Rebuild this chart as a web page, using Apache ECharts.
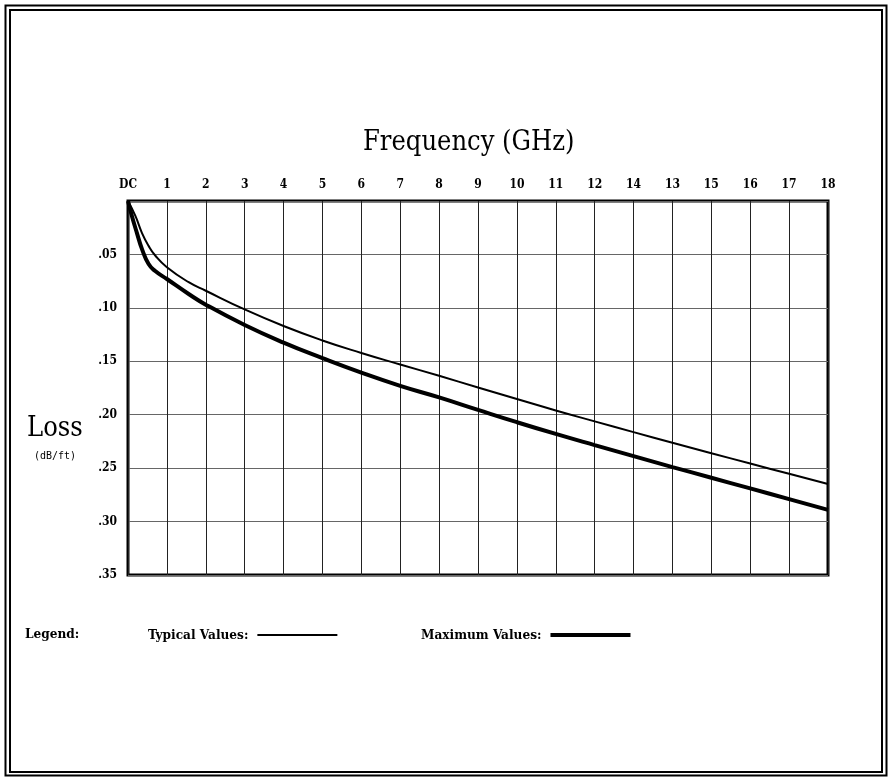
<!DOCTYPE html>
<html>
<head>
<meta charset="utf-8">
<title>Loss vs Frequency</title>
<script src="https://cdn.jsdelivr.net/npm/echarts@6/dist/echarts.min.js"></script>
<style>
  html, body { margin: 0; padding: 0; background: #fff; }
  #chart { width: 888px; height: 778px; }
</style>
</head>
<body>
<div id="chart"></div>
<script>
// tick labels along the top (the 14 / 13 order is as printed on the original)
var xTickLabels = ['DC', '1', '2', '3', '4', '5', '6', '7', '8', '9', '10', '11', '12', '14', '13', '15', '16', '17', '18'];
var yTickLabels = ['', '.05', '.10', '.15', '.20', '.25', '.30', '.35'];

// typical values (x = tick position, y = dB/ft)
var freqTypical = [0, 0.19, 0.36, 0.53, 0.70, 1, 1.56, 2, 3, 4, 5, 6, 7, 8, 9, 10, 11, 12, 13, 14, 15, 16, 17, 18];
var lossTypical = [0, 0.014, 0.030, 0.042, 0.051, 0.062, 0.076, 0.084, 0.1015, 0.117, 0.1305, 0.1422, 0.153, 0.1636, 0.1745, 0.1853, 0.196, 0.2062, 0.2163, 0.2263, 0.236, 0.2457, 0.2553, 0.2648];

// maximum values
var freqMax = [0, 0.10, 0.23, 0.36, 0.53, 0.70, 1, 1.56, 2, 3, 4, 5, 6, 7, 8, 9, 10, 11, 12, 13, 14, 15, 16, 17, 18];
var lossMax = [0, 0.014, 0.030, 0.045, 0.059, 0.0655, 0.073, 0.087, 0.097, 0.116, 0.1325, 0.147, 0.1606, 0.173, 0.1838, 0.1955, 0.207, 0.218, 0.2285, 0.2388, 0.249, 0.259, 0.269, 0.279, 0.289];

var serifC = "'DejaVu Serif Condensed', 'Liberation Serif', serif";

function pairs(xs, ys) {
  return xs.map(function (x, i) { return [x, ys[i]]; });
}

function legendAt(left, name, icon) {
  return {
    left: left,
    top: 623,
    align: 'right',
    itemWidth: 80,
    itemHeight: 14,
    selectedMode: false,
    textStyle: { fontFamily: serifC, fontWeight: 'bold', fontSize: 13.5, color: '#000', padding: [0, 4, 0, 0] },
    data: [{ name: name, icon: icon, itemStyle: { color: '#000' } }]
  };
}

var chart = echarts.init(document.getElementById('chart'));

var option = {
  backgroundColor: '#fff',
  animation: false,
  title: {
    text: 'Frequency (GHz)',
    left: 358,
    top: 124,
    textStyle: { fontFamily: serifC, fontWeight: 'normal', fontSize: 27, color: '#000' }
  },
  legend: [
    legendAt(143, 'Typical Values:', 'path://M0,0h80v2h-80z'),
    legendAt(416, 'Maximum Values:', 'path://M0,0h80v4h-80z')
  ],
  grid: {
    left: 128,
    right: 60,
    top: 201,
    bottom: 203,
    show: true,
    borderColor: '#000',
    borderWidth: 3,
    backgroundColor: 'transparent'
  },
  xAxis: {
    type: 'value',
    position: 'top',
    min: 0,
    max: 18,
    interval: 1,
    axisLine: { show: false },
    axisTick: { show: false },
    axisLabel: {
      margin: 10,
      fontFamily: serifC,
      fontWeight: 'bold',
      fontSize: 12,
      color: '#000',
      formatter: function (v) { return xTickLabels[Math.round(v)]; }
    },
    splitLine: { show: true, lineStyle: { color: '#222', width: 1 } }
  },
  yAxis: {
    type: 'value',
    inverse: true,
    min: 0,
    max: 0.35,
    interval: 0.05,
    axisLine: { show: false },
    axisTick: { show: false },
    axisLabel: {
      margin: 11,
      fontFamily: serifC,
      fontWeight: 'bold',
      fontSize: 12,
      color: '#000',
      formatter: function (v) { return yTickLabels[Math.round(v / 0.05)]; }
    },
    splitLine: { show: true, lineStyle: { color: '#666', width: 1 } }
  },
  graphic: [
    // double frame round the page
    { type: 'rect', shape: { x: 5.5, y: 5.5, width: 881, height: 770 }, style: { fill: null, stroke: '#000', lineWidth: 2 }, silent: true },
    { type: 'rect', shape: { x: 10, y: 10, width: 872, height: 762 }, style: { fill: null, stroke: '#000', lineWidth: 2 }, silent: true },
    { type: 'text', left: 27, top: 415, style: { text: 'Loss', font: '27px ' + serifC, fill: '#000' } },
    { type: 'text', left: 34, top: 451, style: { text: '(dB/ft)', font: '10px "DejaVu Sans Mono", monospace', fill: '#000' } },
    { type: 'text', left: 25, top: 627, style: { text: 'Legend:', font: 'bold 13.5px ' + serifC, fill: '#000' } }
  ],
  series: [
    {
      name: 'Typical Values:',
      type: 'line',
      smooth: 0.5,
      symbol: 'none',
      lineStyle: { color: '#000', width: 2 },
      data: pairs(freqTypical, lossTypical)
    },
    {
      name: 'Maximum Values:',
      type: 'line',
      smooth: 0.5,
      symbol: 'none',
      lineStyle: { color: '#000', width: 4 },
      data: pairs(freqMax, lossMax)
    }
  ]
};

chart.setOption(option);
</script>
</body>
</html>
